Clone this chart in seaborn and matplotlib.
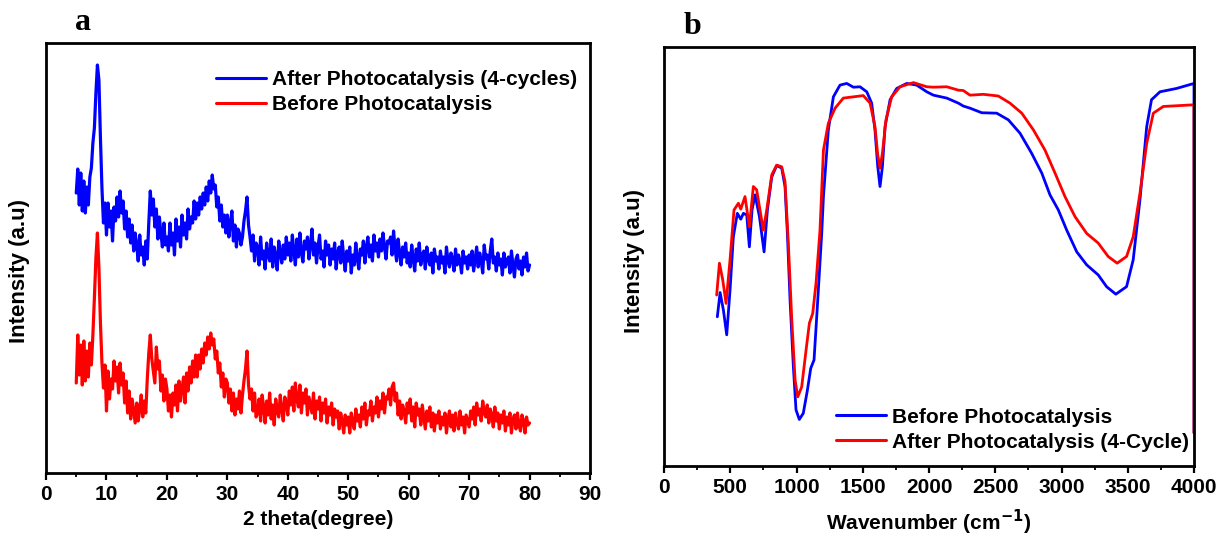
import numpy as np
import matplotlib
matplotlib.use("Agg")
import matplotlib.pyplot as plt
from matplotlib.ticker import MultipleLocator
import seaborn as sns

# ---------------- XRD (panel a) ----------------
# 2-theta grid, 5 to 80 degrees in 0.25 degree steps
two_theta = np.linspace(5, 80, 301)

xrd_after = [
    280, 304, 268, 300, 262, 292, 260, 286, 268, 296, 305, 330, 345, 380, 408, 393, 335, 285, 250, 270,
    238, 270, 246, 262, 232, 266, 252, 276, 256, 282, 260, 272, 244, 262, 236, 254, 230, 248, 222, 240,
    228, 212, 238, 218, 226, 208, 232, 214, 250, 282, 258, 274, 246, 264, 234, 256, 240, 226, 250, 228,
    236, 222, 250, 228, 240, 218, 254, 232, 246, 226, 258, 238, 250, 234, 264, 244, 256, 250, 272, 254,
    270, 258, 276, 264, 280, 268, 286, 272, 292, 280, 298, 284, 288, 266, 276, 252, 268, 246, 258, 240,
    258, 236, 250, 262, 232, 248, 226, 244, 240, 228, 236, 252, 262, 276, 248, 236, 222, 238, 212, 230,
    226, 208, 236, 214, 222, 204, 230, 218, 212, 234, 206, 226, 216, 203, 232, 220, 210, 228, 214, 236,
    218, 230, 212, 238, 222, 208, 234, 216, 240, 220, 211, 232, 224, 236, 214, 228, 244, 218, 230, 210,
    226, 238, 214, 222, 206, 232, 218, 228, 208, 224, 214, 230, 204, 220, 226, 210, 232, 216, 202, 222,
    212, 226, 200, 218, 208, 230, 214, 204, 224, 218, 232, 210, 226, 236, 216, 228, 212, 238, 222, 230,
    216, 234, 222, 240, 226, 214, 232, 230, 236, 218, 242, 224, 212, 234, 220, 208, 226, 216, 230, 210,
    220, 206, 228, 214, 202, 224, 212, 230, 208, 218, 222, 204, 226, 214, 208, 220, 200, 224, 212, 216,
    204, 222, 210, 216, 200, 226, 212, 206, 220, 214, 202, 224, 208, 218, 212, 200, 222, 210, 216, 204,
    218, 208, 222, 202, 214, 226, 206, 220, 212, 200, 228, 214, 218, 204, 222, 234, 210, 216, 202, 220,
    208, 214, 198, 220, 206, 212, 216, 200, 222, 208, 196, 214, 218, 204, 212, 198, 216, 206, 220, 202,
    208,
]

xrd_before = [
    90, 138, 98, 128, 88, 132, 92, 122, 96, 130, 108, 138, 175, 215, 240, 205, 150, 110, 85, 108,
    62, 102, 74, 94, 84, 112, 92, 106, 80, 110, 88, 100, 70, 92, 60, 82, 54, 74, 62, 50,
    70, 52, 64, 78, 56, 72, 60, 94, 120, 138, 114, 102, 90, 126, 104, 112, 82, 98, 72, 94,
    84, 62, 78, 56, 80, 68, 88, 62, 92, 72, 84, 96, 70, 100, 82, 106, 90, 112, 96, 118,
    96, 118, 104, 124, 110, 130, 118, 136, 124, 140, 128, 134, 114, 122, 100, 110, 86, 100, 76, 94,
    90, 70, 84, 62, 80, 58, 74, 64, 82, 60, 78, 92, 104, 122, 88, 74, 84, 62, 80, 56,
    60, 74, 52, 78, 66, 50, 72, 58, 80, 54, 68, 48, 74, 62, 56, 78, 64, 52, 76, 70,
    58, 82, 68, 86, 62, 90, 74, 66, 88, 60, 80, 70, 84, 58, 76, 68, 60, 80, 54, 72,
    64, 76, 52, 70, 60, 74, 50, 66, 58, 70, 48, 64, 56, 62, 44, 60, 52, 40, 58, 48,
    56, 40, 60, 50, 44, 64, 52, 58, 46, 66, 54, 70, 48, 62, 58, 72, 52, 66, 60, 76,
    56, 72, 64, 80, 60, 76, 74, 84, 68, 86, 90, 72, 80, 58, 72, 54, 68, 62, 50, 70,
    60, 74, 52, 66, 46, 70, 58, 64, 48, 68, 56, 44, 62, 52, 66, 46, 60, 42, 58, 50,
    62, 44, 56, 48, 60, 40, 54, 62, 46, 58, 42, 60, 50, 44, 62, 48, 56, 40, 58, 52,
    46, 62, 54, 66, 48, 70, 58, 64, 52, 72, 60, 56, 68, 50, 64, 58, 46, 66, 52, 60,
    44, 58, 50, 62, 42, 56, 48, 60, 40, 54, 58, 44, 60, 48, 42, 58, 52, 40, 56, 48,
    50,
]

# ---------------- FTIR (panel b) ----------------
wn_before = [402, 423, 448, 473, 498, 523, 553, 579, 599, 624, 644, 664, 687, 720, 755, 780,
             813, 850, 888, 913, 931, 951, 976, 996, 1021, 1051, 1082, 1107, 1132, 1157, 1190,
             1203, 1240, 1278, 1328, 1379, 1429, 1479, 1530, 1567, 1592, 1613, 1630, 1648, 1668,
             1706, 1756, 1832, 1907, 1983, 2033, 2134, 2221, 2259, 2309, 2398, 2511, 2599, 2687,
             2775, 2851, 2913, 2976, 3039, 3115, 3190, 3277, 3340, 3410, 3491, 3541, 3592, 3643,
             3679, 3743, 3868, 4000, 4000]
t_before = [35.6, 41.4, 37.2, 31.3, 42.0, 54.7, 60.3, 58.9, 60.3, 59.9, 52.3, 61.1, 64.7, 59.5,
            51.1, 61.1, 69.0, 71.7, 71.1, 66.7, 55.5, 39.6, 23.7, 13.4, 11.1, 12.6, 18.1, 23.3,
            25.3, 38.0, 55.5, 64.3, 80.2, 88.1, 90.9, 91.3, 90.4, 90.5, 89.3, 86.6, 80.2, 71.4,
            66.7, 71.4, 81.0, 87.4, 90.1, 91.3, 90.9, 89.3, 88.5, 87.8, 86.6, 85.9, 85.4, 84.3,
            84.2, 82.6, 79.4, 74.6, 69.9, 64.7, 61.1, 56.3, 51.1, 48.0, 45.6, 42.8, 41.0, 42.8,
            49.2, 63.5, 81.0, 87.4, 89.3, 90.1, 91.3, 7.9]

wn_after = [397, 418, 443, 468, 498, 528, 561, 579, 611, 644, 674, 699, 749, 775, 813, 850,
            888, 913, 938, 963, 989, 1009, 1039, 1072, 1097, 1122, 1147, 1177, 1203, 1240, 1291,
            1353, 1429, 1504, 1555, 1592, 1613, 1630, 1648, 1675, 1718, 1781, 1882, 1983, 2033,
            2134, 2221, 2259, 2309, 2410, 2523, 2611, 2700, 2788, 2875, 2951, 3026, 3102, 3190,
            3277, 3352, 3420, 3491, 3541, 3592, 3643, 3693, 3768, 4000, 4000]
t_after = [40.8, 48.4, 44.4, 38.8, 49.2, 61.1, 62.7, 61.3, 64.3, 57.1, 66.7, 65.9, 56.3, 61.1,
           69.5, 71.8, 71.4, 67.9, 53.2, 35.6, 20.5, 16.5, 18.9, 27.7, 34.1, 36.4, 43.6, 56.3,
           75.4, 81.8, 85.4, 87.8, 88.1, 88.4, 86.6, 81.0, 74.2, 71.1, 74.6, 82.6, 88.1, 90.5,
           91.5, 90.5, 90.4, 90.5, 89.7, 89.6, 88.5, 88.7, 88.3, 86.6, 84.2, 80.2, 75.4, 69.9,
           64.3, 59.5, 55.5, 53.2, 50.0, 48.4, 50.0, 54.7, 65.1, 77.0, 84.2, 85.8, 86.2, 7.9]

BLUE = "#0000FF"
RED = "#FF0000"

sns.set_theme(style="ticks")
plt.rcParams["font.family"] = ["Liberation Sans", "DejaVu Sans"]
plt.rcParams["font.weight"] = "bold"
plt.rcParams["axes.labelweight"] = "bold"
plt.rcParams["mathtext.default"] = "bf"
for key in ("text.color", "axes.labelcolor", "xtick.color", "ytick.color",
            "xtick.labelcolor", "ytick.labelcolor", "axes.edgecolor"):
    plt.rcParams[key] = "black"

fig = plt.figure(figsize=(12.18, 5.35), dpi=100)
ax_a = fig.add_axes([0.0378, 0.1159, 0.4466, 0.8037])
ax_b = fig.add_axes([0.5452, 0.1290, 0.4351, 0.7832])

# Panel a: XRD patterns
sns.lineplot(x=two_theta, y=xrd_after, ax=ax_a, color=BLUE, lw=2.3,
             estimator=None, sort=False, label="After Photocatalysis (4-cycles)")
sns.lineplot(x=two_theta, y=xrd_before, ax=ax_a, color=RED, lw=2.3,
             estimator=None, sort=False, label="Before Photocatalysis")
ax_a.set_xlim(0, 90)
ax_a.set_ylim(0, 430)
ax_a.xaxis.set_major_locator(MultipleLocator(10))
ax_a.xaxis.set_minor_locator(MultipleLocator(5))
ax_a.set_xlabel("2 theta(degree)", fontsize=15, fontweight="bold")
ax_a.xaxis.set_label_coords(0.5, -0.086)

# Panel b: FTIR spectra
sns.lineplot(x=wn_before, y=t_before, ax=ax_b, color=BLUE, lw=2.0,
             estimator=None, sort=False, label="Before Photocatalysis")
sns.lineplot(x=wn_after, y=t_after, ax=ax_b, color=RED, lw=2.0,
             estimator=None, sort=False, label="After Photocatalysis (4-Cycle)")
ax_b.set_xlim(0, 4000)
ax_b.set_ylim(0, 100)
ax_b.xaxis.set_major_locator(MultipleLocator(500))
ax_b.xaxis.set_minor_locator(MultipleLocator(250))
ax_b.set_xlabel("Wavenumber (cm$^{-1}$)", fontsize=15, fontweight="bold")
ax_b.xaxis.set_label_coords(0.5, -0.100)

for ax, ylx in ((ax_a, -0.029), (ax_b, -0.036)):
    ax.set_ylabel("Intensity (a.u)", fontsize=16, fontweight="bold")
    ax.yaxis.set_label_coords(ylx, 0.47 if ax is ax_a else 0.49)
    ax.set_yticks([])
    for sp in ax.spines.values():
        sp.set_visible(True)
        sp.set_linewidth(2.0)
        sp.set_color("black")
    ax.tick_params(axis="x", which="major", direction="out", length=5, width=1.6,
                   labelsize=15, pad=4, colors="black")
    ax.tick_params(axis="x", which="minor", direction="out", length=3, width=1.3,
                   colors="black")
    for lab in ax.get_xticklabels():
        lab.set_fontweight("bold")

leg_a = ax_a.legend(loc="upper left", bbox_to_anchor=(0.297, 0.957), frameon=False,
                    fontsize=15, handlelength=2.4, handletextpad=0.3, labelspacing=0.3,
                    borderaxespad=0)
leg_b = ax_b.legend(loc="lower left", bbox_to_anchor=(0.309, 0.014), frameon=False,
                    fontsize=15, handlelength=2.4, handletextpad=0.3, labelspacing=0.3,
                    borderaxespad=0)
for leg in (leg_a, leg_b):
    for t in leg.get_texts():
        t.set_fontweight("bold")
        t.set_color("black")
    for h in leg.get_lines():
        h.set_linewidth(2.2)

fig.text(83 / 1218, 1 - 22 / 535, "a", fontsize=23, fontweight="bold", color="black",
         family=["Liberation Serif", "DejaVu Serif"], ha="center", va="center")
fig.text(693 / 1218, 1 - 26 / 535, "b", fontsize=23, fontweight="bold", color="black",
         family=["Liberation Serif", "DejaVu Serif"], ha="center", va="center")

fig.savefig("out.png", dpi=100, facecolor="white")
